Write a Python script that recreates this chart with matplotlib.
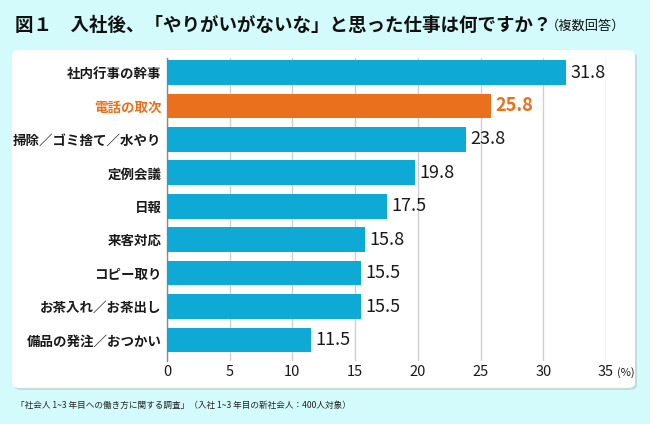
import matplotlib
matplotlib.use("Agg")
import matplotlib.pyplot as plt
from matplotlib.patches import FancyBboxPatch

plt.rcParams['font.family'] = ['Noto Sans CJK JP', 'DejaVu Sans']

categories = ["社内行事の幹事", "電話の取次", "掃除／ゴミ捨て／水やり", "定例会議", "日報",
              "来客対応", "コピー取り", "お茶入れ／お茶出し", "備品の発注／おつかい"]
values = [31.8, 25.8, 23.8, 19.8, 17.5, 15.8, 15.5, 15.5, 11.5]
highlight = "電話の取次"
xticks = [0, 5, 10, 15, 20, 25, 30, 35]

BLUE = "#0ea9d5"
ORANGE = "#ea701e"
BG = "#d3fbfb"

W, H = 650, 424
fig = plt.figure(figsize=(6.5, 4.24), dpi=100)
fig.patch.set_facecolor(BG)

# panel with shadow
shadow = FancyBboxPatch((14 / W, 1 - 390 / H), (637 - 14) / W, (390 - 52) / H,
                        boxstyle="round,pad=0,rounding_size=0.012", transform=fig.transFigure,
                        facecolor="#b9c9c9", edgecolor="none", alpha=0.6, zorder=0)
panel = FancyBboxPatch((12 / W, 1 - 388 / H), (635 - 12) / W, (388 - 50) / H,
                       boxstyle="round,pad=0,rounding_size=0.012", transform=fig.transFigure,
                       facecolor="white", edgecolor="none", zorder=0.5)
fig.patches.extend([shadow, panel])

ax = fig.add_axes([167 / W, 1 - 361 / H, (606 - 167) / W, (361 - 58) / H])
ax.set_facecolor("none")
ax.set_zorder(2)

colors = [ORANGE if c == highlight else BLUE for c in categories]
ypos = list(range(len(categories)))
ax.barh(ypos, values, height=0.74, color=colors, zorder=3)
ax.set_ylim(8.63, -0.434)
ax.set_xlim(0, 35)

for y, v, c in zip(ypos, values, categories):
    col = ORANGE if c == highlight else "#1a1a1a"
    ax.text(v + 0.35, y, f"{v:.1f}", va="center", ha="left", fontsize=13,
            color=col, fontweight="bold" if c == highlight else "normal", zorder=4)

ax.set_yticks(ypos)
ax.set_yticklabels(categories, fontsize=9.7, fontweight="bold")
for lbl, c in zip(ax.get_yticklabels(), categories):
    lbl.set_color(ORANGE if c == highlight else "#1a1a1a")
ax.tick_params(axis="y", length=0, pad=4)

ax.set_xticks(xticks)
ax.set_xticklabels([str(t) for t in xticks], fontsize=10.5, color="#1a1a1a")
ax.tick_params(axis="x", length=0, pad=3)
ax.xaxis.grid(True, color="#cfcfcf", linewidth=1, zorder=1)
ax.set_axisbelow(True)
for s in ["top", "right", "bottom"]:
    ax.spines[s].set_visible(False)
ax.spines["left"].set_color("#8a8a8a")
ax.spines["left"].set_linewidth(1)

fig.text(617 / W, 1 - 373 / H, "(%)", fontsize=8, ha="left", va="center", color="#1a1a1a")

# title
fig.text(15 / W, 1 - 25 / H, "図１　入社後、「やりがいがないな」と思った仕事は何ですか？",
         fontsize=13.3, fontweight="bold", ha="left", va="center", color="#111111")
fig.text(546 / W, 1 - 26 / H, "（複数回答）", fontsize=9.5, ha="left", va="center", color="#111111")

# footer
fig.text(16 / W, 1 - 405 / H, "「社会人 1~3 年目への働き方に関する調査」（入社 1~3 年目の新社会人：400人対象）",
         fontsize=6.2, ha="left", va="center", color="#222222")

fig.savefig("out.png", dpi=100, facecolor=fig.get_facecolor())
